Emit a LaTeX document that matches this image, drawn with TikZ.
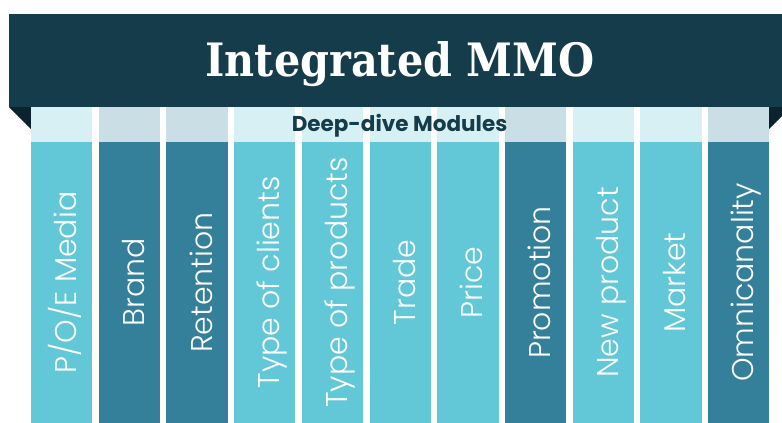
\documentclass[tikz,border=0pt]{standalone}
\usepackage{fontspec}
\setmainfont{Liberation Serif}
\newfontfamily\titlefont{DejaVu Serif}
\newfontfamily\headfont{Poppins}[UprightFont=* Bold]
\newfontfamily\colfont{Poppins}[UprightFont=* Light]

\definecolor{banner}{HTML}{143C4A}
\definecolor{fold}{HTML}{0B232C}
\definecolor{collight}{HTML}{62C8D7}
\definecolor{coldark}{HTML}{347F9A}
\definecolor{caplight}{HTML}{D7F0F4}
\definecolor{capdark}{HTML}{CADFE5}

\tikzset{
  colbox/.style={draw=none, inner sep=0pt, minimum width=61.3pt, minimum height=281pt},
  capbox/.style={draw=none, inner sep=0pt, minimum width=61.3pt, minimum height=35pt},
  collabel/.style={rotate=90, anchor=base, inner sep=0pt, text=white,
    font=\colfont\fontsize{30}{30}\selectfont},
}

\begin{document}
\begin{tikzpicture}[x=1pt, y=-1pt]
\useasboundingbox (0,0) rectangle (782,423);

% banner with folded corners
\fill[banner] (9,14) rectangle (782,107);
\fill[fold] (9,107) -- (31,107) -- (31,129) -- cycle;
\fill[fold] (769,107) -- (782,107) -- (782,116) -- (769,129) -- cycle;

\node[text=white, anchor=base, inner sep=0pt,
      font=\titlefont\bfseries\fontsize{46}{46}\selectfont] (title) at (400,76.7)
      {\scalebox{0.9}[1]{Integrated MMO}};

% module columns: index/label/shade
\foreach \i/\lbl/\shade in {0/P\slash O\slash E Media/light, 1/Brand/dark, 2/Retention/dark,
    3/Type of clients/light, 4/Type of products/light, 5/Trade/light, 6/Price/light,
    7/Promotion/dark, 8/New product/light, 9/Market/light, 10/Omnicanality/dark} {
  \pgfmathsetmacro{\xc}{31 + \i*67.7 + 30.65}
  \node[capbox, fill=cap\shade] (cap\i) at (\xc,124.5) {};
  \node[colbox, fill=col\shade] (col\i) at (\xc,282.5) {};
  \node[collabel] (lbl\i) at (\xc+15,282.5) {\lbl};
}

\node[text=banner, anchor=base, inner sep=0pt,
      font=\headfont\fontsize{21.5}{21.5}\selectfont] (deep) at (399.5,131) {Deep-dive Modules};
\end{tikzpicture}
\end{document}
